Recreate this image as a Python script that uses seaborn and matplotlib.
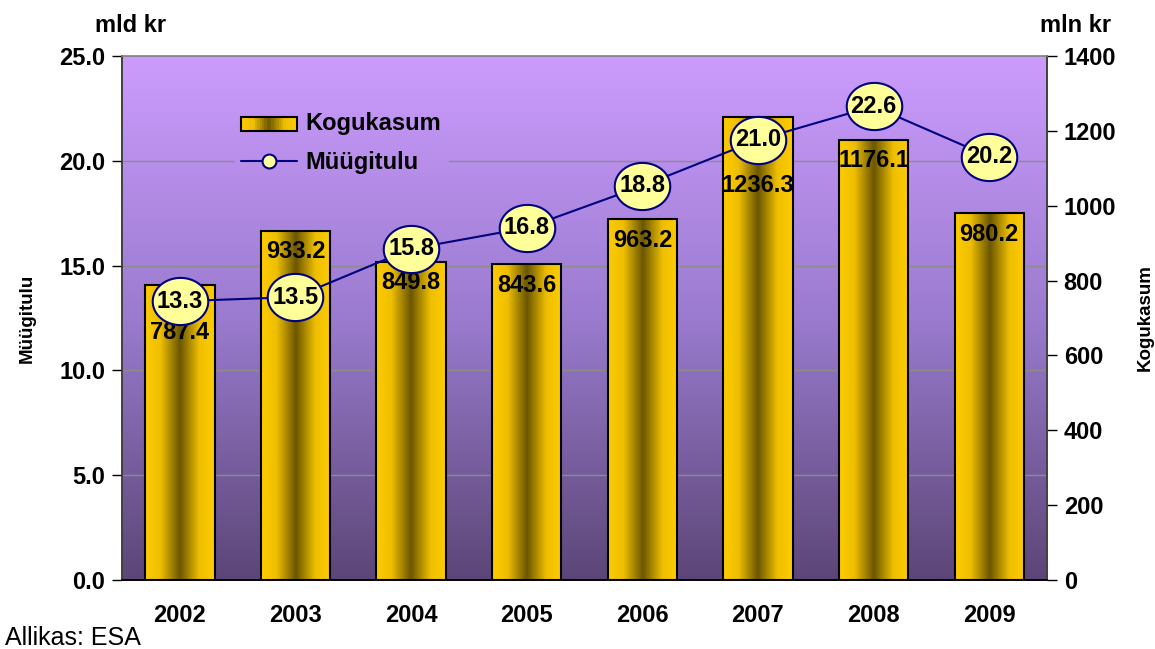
import numpy as np
import pandas as pd
import matplotlib
matplotlib.use('Agg')
import matplotlib.pyplot as plt
import seaborn as sns
from matplotlib.colors import LinearSegmentedColormap
from matplotlib.path import Path
from matplotlib.markers import MarkerStyle
from matplotlib.lines import Line2D
from matplotlib.patches import Rectangle
from matplotlib.legend_handler import HandlerBase

# data
years = ['2002', '2003', '2004', '2005', '2006', '2007', '2008', '2009']
kogukasum = [787.4, 933.2, 849.8, 843.6, 963.2, 1236.3, 1176.1, 980.2]   # mln kr, right axis
myygitulu = [13.3, 13.5, 15.8, 16.8, 18.8, 21.0, 22.6, 20.2]            # mld kr, left axis

left_ticks = [0, 5, 10, 15, 20, 25]
right_ticks = [0, 200, 400, 600, 800, 1000, 1200, 1400]

sns.set_style('white')
plt.rcParams['font.family'] = ['Liberation Sans', 'DejaVu Sans']
for key in ('text.color', 'axes.labelcolor', 'xtick.color', 'ytick.color'):
    plt.rcParams[key] = 'black'

GOLD = '#FFCC00'
NAVY = '#000080'
FS = 17
bar_cmap = LinearSegmentedColormap.from_list(
    'bar', [(0, GOLD), (0.22, '#EEBF00'), (0.5, '#6B5600'), (0.78, '#EEBF00'), (1, GOLD)])
bg_cmap = LinearSegmentedColormap.from_list('bg', ['#5C4677', '#9A7BCF', '#CC9CFD'])


class GradientHandler(HandlerBase):
    def create_artists(self, legend, orig, xd, yd, w, h, fontsize, trans):
        out = []
        n = 24
        for k in range(n):
            c = bar_cmap((k + 0.5) / n)
            out.append(Rectangle((xd + w * k / n, yd), w / n, h, fc=c, ec='none', transform=trans))
        out.append(Rectangle((xd, yd), w, h, fc='none', ec='black', lw=1.5, transform=trans))
        return out


fig = plt.figure(figsize=(11.55, 6.49), dpi=100)
rect = [122 / 1155, 1 - 580 / 649, (1047 - 122) / 1155, (580 - 56) / 649]

# background gradient
bg = fig.add_axes(rect, zorder=-1)
bg.imshow(np.linspace(0, 1, 256).reshape(-1, 1), cmap=bg_cmap, origin='lower',
          aspect='auto', extent=[0, 1, 0, 1])
bg.axis('off')

ax = fig.add_axes(rect, zorder=2)
ax2 = ax.twinx()
ax2.set_zorder(1)
ax.patch.set_visible(False)
ax2.patch.set_visible(False)

# bars (Kogukasum) on right axis
sns.barplot(x=years, y=kogukasum, ax=ax2, width=0.6, facecolor='none',
            edgecolor='black', linewidth=1.5, zorder=3)
for p in ax2.patches:
    x0, w, h = p.get_x(), p.get_width(), p.get_height()
    ax2.imshow(np.linspace(0, 1, 200).reshape(1, -1), cmap=bar_cmap, aspect='auto',
               extent=[x0, x0 + w, 0, h], zorder=2, interpolation='bilinear')
ax2.set_ylim(0, 1400)
ax2.set_xlim(-0.5, len(years) - 0.5)

# line (Müügitulu) on left axis
t = np.linspace(0, 2 * np.pi, 60)
ell = MarkerStyle(Path(np.column_stack([np.cos(t), 0.85 * np.sin(t)]), closed=True))
df = pd.DataFrame({'pos': np.arange(len(years)), 'val': myygitulu})
sns.lineplot(data=df, x='pos', y='val', ax=ax, color=NAVY, lw=1.5, marker=ell,
             markersize=40, markerfacecolor='#FFFF99', markeredgecolor=NAVY,
             markeredgewidth=1.5)
ax.set_ylim(0, 25)
ax.set_xlim(-0.5, len(years) - 0.5)

for i, v in enumerate(myygitulu):
    ax.text(i, v, f'{v:.1f}', ha='center', va='center', fontsize=FS,
            fontweight='bold', zorder=5)

# bar value labels, pushed below the ellipses where they collide
label_shift = {0: 47, 5: 68}
for i, v in enumerate(kogukasum):
    ax2.annotate(f'{v:.1f}', (i, v), xytext=(0, -label_shift.get(i, 21)),
                 textcoords='offset pixels', ha='center', va='center',
                 fontsize=FS, fontweight='bold', zorder=6)

# axes styling
ax.set_yticks(left_ticks)
ax.set_yticklabels([f'{v:.1f}' for v in left_ticks])
ax2.set_yticks(right_ticks)
ax2.set_yticklabels([str(v) for v in right_ticks])
ax.set_xticks(np.arange(len(years)))
ax.set_xticklabels(years)
ax.set_xticks(np.arange(len(years) + 1) - 0.5, minor=True)
ax.tick_params(axis='x', which='major', length=0, pad=17, labelsize=FS)
ax.tick_params(axis='x', which='minor', length=7, width=1, direction='out', color='black')
ax.tick_params(axis='y', length=7, width=1, direction='out', labelsize=FS, pad=5)
ax2.tick_params(axis='y', length=7, width=1, direction='out', labelsize=FS, pad=5)
for lab in ax.get_xticklabels() + ax.get_yticklabels() + ax2.get_yticklabels():
    lab.set_fontweight('bold')
ax.set_xlabel('')
ax.set_ylabel('Müügitulu', fontsize=13.5, fontweight='bold', labelpad=17)
ax2.set_ylabel('Kogukasum', fontsize=13.5, fontweight='bold', labelpad=15)
ax2.set_xlabel('')

for a in (ax, ax2):
    a.spines['top'].set_color('#808080')
    a.spines['left'].set_color('#404040')
    a.spines['right'].set_color('#404040')
    a.spines['bottom'].set_color('black')
    for s in a.spines.values():
        s.set_linewidth(1.2)
ax2.spines['top'].set_visible(False)

# legend
h_bar = Rectangle((0, 0), 1, 1)
h_line = Line2D([], [], color=NAVY, lw=1.5, marker='o', markersize=10,
                markerfacecolor='#FFFF99', markeredgecolor=NAVY, markeredgewidth=1.5)
leg = ax.legend([h_bar, h_line], ['Kogukasum', 'Müügitulu'],
                handler_map={Rectangle: GradientHandler()},
                loc='upper left', bbox_to_anchor=(0.108, 0.93), frameon=False,
                prop={'weight': 'bold', 'size': FS}, handlelength=2.4,
                handleheight=0.55, handletextpad=0.35, labelspacing=0.7,
                borderpad=0.3)

# gridlines (left axis values) behind bars, interrupted by the legend box
fig.canvas.draw()
lb = leg.get_window_extent().transformed(ax2.transAxes.inverted())
for v in left_ticks[1:-1]:
    yv = v * 1400 / 25
    yfrac = v / 25
    if lb.y0 <= yfrac <= lb.y1:
        ax2.axhline(yv, xmin=0, xmax=lb.x0, color='#8C8C8C', lw=1, zorder=1)
        ax2.axhline(yv, xmin=lb.x1, xmax=1, color='#8C8C8C', lw=1, zorder=1)
    else:
        ax2.axhline(yv, color='#8C8C8C', lw=1, zorder=1)

fig.text(95 / 1155, 1 - 25 / 649, 'mld kr', fontsize=FS, fontweight='bold', va='center')
fig.text(1040 / 1155, 1 - 25 / 649, 'mln kr', fontsize=FS, fontweight='bold', va='center')
fig.text(5 / 1155, 1 - 638 / 649, 'Allikas: ESA', fontsize=18, va='center')

fig.savefig('out.png', dpi=100)
